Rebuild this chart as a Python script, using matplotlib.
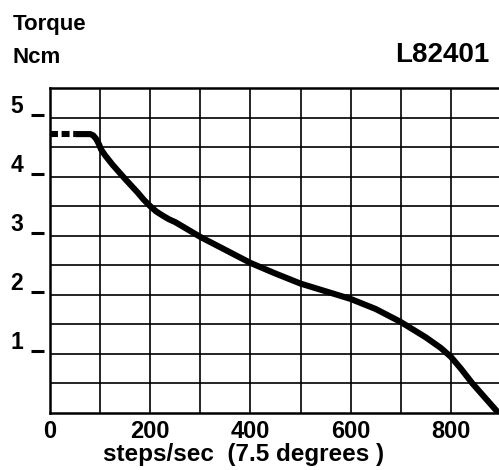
import matplotlib
matplotlib.use("Agg")
import matplotlib.pyplot as plt
from matplotlib.transforms import blended_transform_factory, ScaledTranslation

plt.rcParams['font.family'] = ['Liberation Sans', 'DejaVu Sans']
plt.rcParams['font.weight'] = 'bold'

# Data
dash_x = [0, 50]
dash_y = [4.72, 4.72]
curve_x = [50, 70, 80, 86, 92, 97, 102, 110, 125, 150, 175, 187, 200, 212,
           225, 237, 250, 300, 350, 400, 450, 500, 550, 600, 650, 700, 750,
           780, 800, 820, 843, 870, 895]
curve_y = [4.72, 4.72, 4.72, 4.70, 4.64, 4.56, 4.46, 4.36, 4.20, 3.96, 3.73,
           3.61, 3.50, 3.41, 3.34, 3.28, 3.23, 2.98, 2.76, 2.54, 2.36, 2.19,
           2.06, 1.93, 1.76, 1.54, 1.28, 1.10, 0.95, 0.75, 0.50, 0.24, 0.0]
xtick_vals = [0, 200, 400, 600, 800]
xtick_labels = ['0', '200', '400', '600', '800']
ytick_vals = [1, 2, 3, 4, 5]
ytick_labels = ['1', '2', '3', '4', '5']
xgrid = [100, 200, 300, 400, 500, 600, 700, 800]
ygrid = [0.5, 1, 1.5, 2, 2.5, 3, 3.5, 4, 4.5, 5]

W, H = 499, 470
fig = plt.figure(figsize=(W / 100, H / 100), dpi=100)
ax = fig.add_axes([50 / W, 1 - 413 / H, 449 / W, 325 / H])
ax.set_xlim(0, 896)
ax.set_ylim(0, 5.5)

for gx in xgrid:
    ax.axvline(gx, color='black', lw=1.2, zorder=1)
for gy in ygrid:
    ax.axhline(gy, color='black', lw=1.2, zorder=1)

ax.plot(dash_x, dash_y, color='black', lw=4.4, dashes=(1.3, 0.6), solid_capstyle='butt', zorder=3)
ax.plot(curve_x, curve_y, color='black', lw=4.4, solid_capstyle='butt',
        solid_joinstyle='round', zorder=3)

for side in ['left', 'top', 'bottom']:
    ax.spines[side].set_linewidth(1.8)
ax.spines['right'].set_visible(False)

ax.set_xticks(xtick_vals, xtick_labels)
ax.set_yticks(ytick_vals, ytick_labels)
ax.tick_params(axis='x', length=0, pad=5, labelsize=17)
ax.tick_params(axis='y', length=0, pad=19.5, labelsize=16.5)
for lab in ax.get_yticklabels():
    lab.set_va('bottom')
    lab.set_fontweight('bold')
for lab in ax.get_xticklabels():
    lab.set_fontweight('bold')

# dash marks beside the y tick labels
dash_tr = blended_transform_factory(ax.transAxes, ax.transData) + \
    ScaledTranslation(0, 3 / 100, fig.dpi_scale_trans)
ax.plot([-(50 - 36.5) / 449] * len(ytick_vals), ytick_vals, ls='none',
        marker='_', ms=13 * 0.72, mew=2.2, color='black',
        transform=dash_tr, clip_on=False)

ax.set_xlabel('steps/sec  (7.5 degrees )', fontsize=17.5, fontweight='bold')
ax.xaxis.set_label_coords((244 - 50) / 449, -0.092)

fig.text(13 / W, 1 - 30 / H, 'Torque', fontsize=16, fontweight='bold', va='baseline', ha='left')
fig.text(13 / W, 1 - 63 / H, 'Ncm', fontsize=16, fontweight='bold', va='baseline', ha='left')
fig.text(489 / W, 1 - 62 / H, 'L82401', fontsize=20, fontweight='bold', va='baseline', ha='right')

fig.savefig('out.png', dpi=100)
